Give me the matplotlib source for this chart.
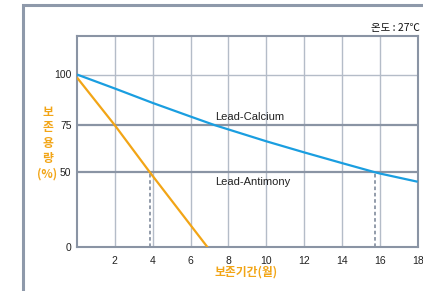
import numpy as np
import matplotlib
matplotlib.use("Agg")
import matplotlib.pyplot as plt
from matplotlib.patches import Rectangle

# ---- data ----
calcium_x = [0, 2, 4, 6, 7.3, 8, 10, 12, 14, 15.75, 16, 18]
calcium_y = [100, 93.1, 86.0, 79.3, 75, 72.8, 66.5, 60.6, 54.9, 50, 49.2, 43.7]
antimony_x = [0, 2, 3.85, 6.9]
antimony_y = [98.5, 75, 50, 0]
x_ticks = [2, 4, 6, 8, 10, 12, 14, 16, 18]
y_ticks = [0, 50, 75, 100]
marker_x = [3.85, 15.75]      # dotted drop lines at 50 %
series_labels = ["Lead-Calcium", "Lead-Antimony"]
label_pos = [(7.3, 79.2), (7.3, 43.7)]
x_label = "보존기간(월)"
y_label = "보\n존\n용\n량\n(%)"
note = "온도 : 27℃"

# non-linear (schematic) y scale of the original illustration
_yv = np.array([-1000, 0, 50, 75, 100, 119, 1000], dtype=float)
_yp = np.array([-1500, 0, 75, 122, 172.8, 211.8, 211.8 + 881 * 2.05], dtype=float)
def fwd(v):
    return np.interp(v, _yv, _yp)
def inv(p):
    return np.interp(p, _yp, _yv)

BLUE = "#1a9ee0"
ORANGE = "#f2a516"
GRID = "#b4bcc8"
DARK = "#8a94a4"

plt.rcParams['font.family'] = ['Liberation Sans', 'Noto Sans CJK KR', 'DejaVu Sans']

fig = plt.figure(figsize=(4.23, 2.91), dpi=100)
fig.patch.set_facecolor("white")
ax = fig.add_axes([77 / 423, 1 - 247.3 / 291, (417.7 - 77) / 423, (247.3 - 35.5) / 291])
ax.set_yscale("function", functions=(fwd, inv))
ax.set_xlim(0, 18)
ax.set_ylim(0, 119)

# grid
for xv in x_ticks[:-1]:
    ax.axvline(xv, color=GRID, lw=1.0, zorder=1)
ax.axhline(100, color=GRID, lw=1.0, zorder=1)
for yv in (75, 50):
    ax.axhline(yv, color=DARK, lw=1.6, zorder=1)

# dotted drop lines
for xv in marker_x:
    ax.plot([xv, xv], [0, 50], color=DARK, lw=1.3, ls=(0, (2, 1.5)), zorder=2)

ax.plot(calcium_x, calcium_y, color=BLUE, lw=1.6, zorder=3, solid_capstyle="butt")
ax.plot(antimony_x, antimony_y, color=ORANGE, lw=1.6, zorder=3, solid_capstyle="butt")

for lbl, (lx, ly) in zip(series_labels, label_pos):
    ax.text(lx, ly, lbl, fontsize=8, color="#222222", va="center", ha="left")

ax.set_xticks(x_ticks)
ax.set_xticklabels([str(v) for v in x_ticks])
ax.set_yticks(y_ticks)
ax.set_yticklabels([str(v) for v in y_ticks])
ax.tick_params(length=0, labelsize=7.5, labelcolor="#222222")
ax.tick_params(axis="x", pad=6)
ax.tick_params(axis="y", pad=4)
for s in ax.spines.values():
    s.set_color(DARK)
    s.set_linewidth(1.5)

# axis labels
fig.text(246 / 423, 1 - 272 / 291, x_label, color=ORANGE, fontsize=8.5, fontweight="bold",
         ha="center", va="center", family=['Noto Sans CJK KR', 'DejaVu Sans'])
fig.text(47.5 / 423, 1 - 143 / 291, y_label, color=ORANGE, fontsize=8.5, fontweight="bold",
         ha="center", va="center", linespacing=1.25, multialignment="center",
         family=['Noto Sans CJK KR', 'DejaVu Sans'])
fig.text(420 / 423, 1 - 28 / 291, note, color="#111111", fontsize=7.5,
         ha="right", va="center", family=['Noto Sans CJK KR', 'DejaVu Sans'])

# outer frame
fig.patches.append(Rectangle((23 / 423, -0.2), 1.2, (291 - 5) / 291 + 0.2,
                             transform=fig.transFigure, fill=False,
                             edgecolor="#8e99aa", lw=2.2, zorder=0))

fig.savefig("out.png", dpi=100)
